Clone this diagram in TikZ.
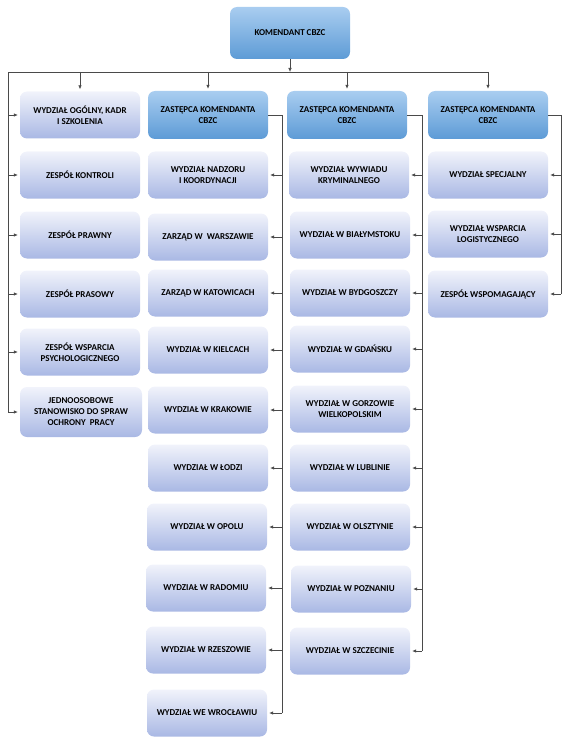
\documentclass[tikz,border=0pt]{standalone}
\usepackage{fontspec}
\setmainfont{Carlito}
\usetikzlibrary{arrows.meta}
\definecolor{headtop}{HTML}{A9CDF0}
\definecolor{headbot}{HTML}{5D9BD6}
\definecolor{subtop}{HTML}{F1F3FB}
\definecolor{subbot}{HTML}{A9B8E4}
\definecolor{linkgray}{HTML}{4A4A4A}
\begin{document}
\begin{tikzpicture}[x=1pt, y=-1pt,
    box/.style={rounded corners=7pt, minimum width=120pt, minimum height=47pt, inner sep=2pt,
      align=center, text=black, font=\bfseries\fontsize{9}{11}\selectfont},
    head/.style={box, top color=headtop, bottom color=headbot},
    sub/.style={box, top color=subtop, bottom color=subbot},
    link/.style={draw=linkgray, line width=0.7pt},
    arr/.style={link, -{Latex[length=4pt, width=3.6pt]}, shorten >=2pt}]
  \useasboundingbox (0,0) rectangle (567,746);

  \node [head, minimum height=52pt] (kom) at (290,33) {KOMENDANT CBZC};
  \node [head, minimum height=48pt] (zast2) at (208,115) {ZASTĘPCA KOMENDANTA\\CBZC};
  \node [head, minimum height=48pt] (zast3) at (347,115) {ZASTĘPCA KOMENDANTA\\CBZC};
  \node [head, minimum height=48pt] (zast4) at (488,115) {ZASTĘPCA KOMENDANTA\\CBZC};

  \node [sub] (a1) at (80,115) {WYDZIAŁ OGÓLNY, KADR\\I SZKOLENIA};
  \node [sub] (a2) at (80,175) {ZESPÓŁ KONTROLI};
  \node [sub] (a3) at (80,235) {ZESPÓŁ PRAWNY};
  \node [sub] (a4) at (80,294) {ZESPÓŁ PRASOWY};
  \node [sub] (a5) at (80,352) {ZESPÓŁ WSPARCIA\\PSYCHOLOGICZNEGO};
  \node [sub, minimum width=122pt, minimum height=50pt] (a6) at (81,412) {JEDNOOSOBOWE\\STANOWISKO DO SPRAW\\OCHRONY\ \ PRACY};

  \node [sub] (b1) at (208,175) {WYDZIAŁ NADZORU\\I KOORDYNACJI};
  \node [sub] (b2) at (208,237) {ZARZĄD W\ \ WARSZAWIE};
  \node [sub] (b3) at (208,293) {ZARZĄD W KATOWICACH};
  \node [sub] (b4) at (208,350) {WYDZIAŁ W KIELCACH};
  \node [sub] (b5) at (208,410) {WYDZIAŁ W KRAKOWIE};
  \node [sub] (b6) at (208,468) {WYDZIAŁ W ŁODZI};
  \node [sub] (b7) at (207,527) {WYDZIAŁ W OPOLU};
  \node [sub] (b8) at (206,588) {WYDZIAŁ W RADOMIU};
  \node [sub] (b9) at (206,650) {WYDZIAŁ W RZESZOWIE};
  \node [sub] (b10) at (207,713) {WYDZIAŁ WE WROCŁAWIU};

  \node [sub] (c1) at (349,175) {WYDZIAŁ WYWIADU\\KRYMINALNEGO};
  \node [sub] (c2) at (350,235) {WYDZIAŁ W BIAŁYMSTOKU};
  \node [sub] (c3) at (350,293) {WYDZIAŁ W BYDGOSZCZY};
  \node [sub] (c4) at (350,349) {WYDZIAŁ W GDAŃSKU};
  \node [sub] (c5) at (350,409) {WYDZIAŁ W GORZOWIE\\WIELKOPOLSKIM};
  \node [sub] (c6) at (350,468) {WYDZIAŁ W LUBLINIE};
  \node [sub] (c7) at (350,527) {WYDZIAŁ W OLSZTYNIE};
  \node [sub] (c8) at (351,589) {WYDZIAŁ W POZNANIU};
  \node [sub] (c9) at (350,651) {WYDZIAŁ W SZCZECINIE};

  \node [sub] (d1) at (488,175) {WYDZIAŁ SPECJALNY};
  \node [sub] (d2) at (488,234) {WYDZIAŁ WSPARCIA\\LOGISTYCZNEGO};
  \node [sub] (d3) at (488,294) {ZESPÓŁ WSPOMAGAJĄCY};

  \coordinate (busL) at (8,72);
  \coordinate (busR) at (488,72);
  \coordinate (s2) at (282,115);
  \coordinate (s3) at (422,115);
  \coordinate (s4) at (561,115);

  \draw [arr, shorten >=0pt] (kom.south) -- (kom.south |- busL);
  \draw [link] (busR) -- (busL) -- (busL |- a6.west);
  \draw [arr] (busL -| a1.north) -- (a1.north);
  \draw [arr] (busL -| zast2.north) -- (zast2.north);
  \draw [arr] (busL -| zast3.north) -- (zast3.north);
  \draw [arr] (busR) -- (zast4.north);

  \draw [arr] (busL |- a1.west) -- (a1.west);
  \draw [arr] (busL |- a2.west) -- (a2.west);
  \draw [arr] (busL |- a3.west) -- (a3.west);
  \draw [arr] (busL |- a4.west) -- (a4.west);
  \draw [arr] (busL |- a5.west) -- (a5.west);
  \draw [arr] (busL |- a6.west) -- (a6.west);

  \draw [link] (zast2.east) -- (s2) -- (s2 |- b10.east);
  \draw [arr] (s2 |- b1.east) -- (b1.east);
  \draw [arr] (s2 |- b2.east) -- (b2.east);
  \draw [arr] (s2 |- b3.east) -- (b3.east);
  \draw [arr] (s2 |- b4.east) -- (b4.east);
  \draw [arr] (s2 |- b5.east) -- (b5.east);
  \draw [arr] (s2 |- b6.east) -- (b6.east);
  \draw [arr] (s2 |- b7.east) -- (b7.east);
  \draw [arr] (s2 |- b8.east) -- (b8.east);
  \draw [arr] (s2 |- b9.east) -- (b9.east);
  \draw [arr] (s2 |- b10.east) -- (b10.east);

  \draw [link] (zast3.east) -- (s3) -- (s3 |- c9.east);
  \draw [arr] (s3 |- c1.east) -- (c1.east);
  \draw [arr] (s3 |- c2.east) -- (c2.east);
  \draw [arr] (s3 |- c3.east) -- (c3.east);
  \draw [arr] (s3 |- c4.east) -- (c4.east);
  \draw [arr] (s3 |- c5.east) -- (c5.east);
  \draw [arr] (s3 |- c6.east) -- (c6.east);
  \draw [arr] (s3 |- c7.east) -- (c7.east);
  \draw [arr] (s3 |- c8.east) -- (c8.east);
  \draw [arr] (s3 |- c9.east) -- (c9.east);

  \draw [link] (zast4.east) -- (s4) -- (s4 |- d3.east);
  \draw [arr] (s4 |- d1.east) -- (d1.east);
  \draw [arr] (s4 |- d2.east) -- (d2.east);
  \draw [arr] (s4 |- d3.east) -- (d3.east);
\end{tikzpicture}
\end{document}
